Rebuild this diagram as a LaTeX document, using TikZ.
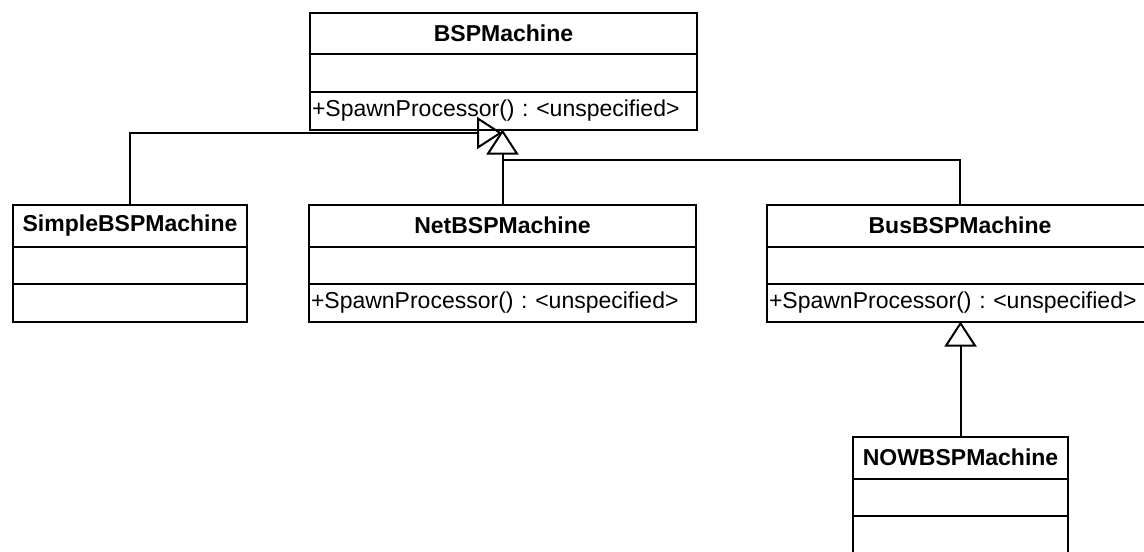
\documentclass[tikz,border=0pt]{standalone}
\usepackage{fontspec}
\setmainfont{Liberation Sans}
\usetikzlibrary{arrows.meta,positioning}
\frenchspacing

\begin{document}
\begin{tikzpicture}[x=0.5pt,y=-0.5pt,line width=1pt,
		every node/.style={font=\fontsize{11.5}{13}\selectfont},
		cls/.style={draw,outer sep=0pt,inner xsep=1pt,inner ysep=0pt},
		ctitle/.style={cls,minimum height=20.75pt,font=\fontsize{11.5}{13}\selectfont\bfseries},
		cpart/.style={cls,minimum height=18.75pt},
		cop/.style={cpart,text width=#1,align=left},
		inherit/.style={-{Triangle[open,length=12.5pt,width=16pt]}}]
		\clip (0,0) rectangle (1144,551);
		% base class
		\node[ctitle,minimum width=193.5pt,anchor=north] (bsp) at (503.5,13) {BSPMachine};
		\node[cpart,minimum width=193.5pt] [below=0pt of bsp] (bsp_a) {};
		\node[cop=191.5pt] [below=0pt of bsp_a] (bsp_m) {+SpawnProcessor() : <unspecified>};
		% subclasses
		\node[ctitle,minimum width=117pt,anchor=north] (simple) at (130,205) {SimpleBSPMachine};
		\node[cpart,minimum width=117pt] [below=0pt of simple] (simple_a) {};
		\node[cpart,minimum width=117pt] [below=0pt of simple_a] (simple_m) {};
		\node[ctitle,minimum width=193.5pt,anchor=north] (net) at (502.5,205) {NetBSPMachine};
		\node[cpart,minimum width=193.5pt] [below=0pt of net] (net_a) {};
		\node[cop=191.5pt] [below=0pt of net_a] (net_m) {+SpawnProcessor() : <unspecified>};
		\node[ctitle,minimum width=193pt,anchor=north] (bus) at (960,205) {BusBSPMachine};
		\node[cpart,minimum width=193pt] [below=0pt of bus] (bus_a) {};
		\node[cop=191pt] [below=0pt of bus_a] (bus_m) {+SpawnProcessor() : <unspecified>};
		\node[ctitle,minimum width=107.5pt,anchor=north] (now) at (960.5,437) {NOWBSPMachine};
		\node[cpart,minimum width=107.5pt] [below=0pt of now] (now_a) {};
		\node[cpart,minimum width=107.5pt] [below=0pt of now_a] (now_m) {};
		% generalisations
		\coordinate (tip_l) at (502,133);
		\coordinate (join) at (503,160);
		\draw[inherit] (simple.north) |- (tip_l);
		\draw[inherit] (net.north) -- (net.north |- bsp_m.south);
		\draw (bus.north) |- (join);
		\draw[inherit] (now.north) -- (now.north |- bus_m.south);
	\end{tikzpicture}
\end{document}
